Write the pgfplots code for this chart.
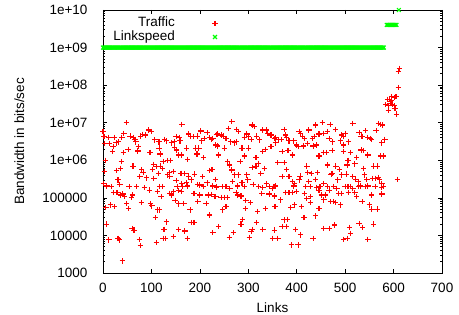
\documentclass[border=0pt]{standalone}
\usepackage{pgfplots}
\pgfplotsset{compat=1.18}
\usepackage{fontspec}
\setmainfont{Liberation Sans}
\definecolor{gpred}{RGB}{255,0,0}
\definecolor{gpgreen}{RGB}{0,255,0}
\pgfplotsset{marklegend/.style={legend image code/.code={\path (0cm,0cm) (2.76cm,0cm); \draw[##1] plot coordinates {(1.38cm,0cm)};}}}
\begin{document}
\begin{tikzpicture}[font=\fontsize{13.5bp}{16bp}\selectfont]
\begin{axis}[
  scale only axis, width=339bp, height=263bp,
  xmin=0, xmax=700, ymin=1000, ymax=1e10, ymode=log,
  xtick={0,100,200,300,400,500,600,700},
  ytick={1e3,1e4,1e5,1e6,1e7,1e8,1e9,1e10},
  yticklabels={1000,10000,100000,1e+06,1e+07,1e+08,1e+09,1e+10},
  minor ytick={2e3,3e3,4e3,5e3,6e3,7e3,8e3,9e3,2e4,3e4,4e4,5e4,6e4,7e4,8e4,9e4,2e5,3e5,4e5,5e5,6e5,7e5,8e5,9e5,2e6,3e6,4e6,5e6,6e6,7e6,8e6,9e6,2e7,3e7,4e7,5e7,6e7,7e7,8e7,9e7,2e8,3e8,4e8,5e8,6e8,7e8,8e8,9e8,2e9,3e9,4e9,5e9,6e9,7e9,8e9,9e9},
  /pgf/number format/assume math mode=true,
  tick align=inside, major tick length=4.5bp, minor tick length=2.5bp,
  every tick/.style={draw=black, line width=0.7bp},
  axis line style={draw=black, line width=0.9bp},
  xticklabel style={yshift=-7bp}, yticklabel style={xshift=-12bp},
  xlabel={Links}, ylabel={Bandwidth in bits/sec},
  xlabel style={at={(axis description cs:0.5,0)}, anchor=base, yshift=-40bp},
  ylabel style={at={(axis description cs:-0.222,0.5)}, anchor=south},
  clip=false,
  legend style={draw=none, fill=none, inner sep=0pt, at={(axis description cs:0.448,0.975)}, anchor=north east,
    row sep=0pt, nodes={inner sep=0.5bp, text height=9.7bp, text depth=2.8bp}},
  legend cell align=right, legend plot pos=right,
]
\coordinate (bl) at (rel axis cs:0,0);
\coordinate (tr) at (rel axis cs:1,1);
\addplot[only marks, mark=+, mark size=2.7bp, color=gpred, line width=1.1bp, mark options={solid}, marklegend]
table[row sep=\\] {
x y\\
48 1.0e7\\ 0 5.8e6\\ 43 5.2e6\\ 2 4.3e6\\ 11 4.1e6\\ 23 4.1e6\\ 27 2.9e6\\ 32 3.1e6\\ 39 4.1e6\\ 56 4.4e6\\
63 4.1e6\\ 66 3.6e6\\ 68 3.1e6\\ 78 4.4e6\\ 82 4.9e6\\ 87 4.7e6\\ 94 6.4e6\\ 100 5.8e6\\ 107 3.5e6\\ 114 3.1e6\\
4 2.8e6\\ 14 2.8e6\\ 21 2.3e6\\ 20 1.7e6\\ 42 1.6e6\\ 52 1.95e6\\ 73 2.3e6\\ 72 1.77e6\\ 97 1.6e6\\ 116 2.1e6\\
5 1.0e6\\ 38 9.2e5\\ 62 7.0e5\\ 80 5.7e5\\ 83 4.7e5\\ 104 7.8e5\\ 102 5.7e5\\ 111 6.8e5\\ 3 5.0e5\\ 28 5.3e5\\
36 6.1e5\\ 76 3.7e5\\ 90 3.4e5\\ 105 3.3e5\\ 115 4.5e5\\ 1 2.4e5\\ 8 2.07e5\\ 18 2.0e5\\ 31 3.0e5\\ 35 2.3e5\\
54 2.0e5\\ 69 2.0e5\\ 86 1.87e5\\ 96 1.6e5\\ 112 1.46e5\\ 22 1.37e5\\ 29 1.37e5\\ 37 1.19e5\\ 41 1.27e5\\ 45 1.07e5\\
59 1.03e5\\ 61 1.19e5\\ 15 6.5e4\\ 24 5.8e4\\ 6 5.6e4\\ 49 7.1e4\\ 53 5.3e4\\ 79 7.4e4\\ 98 6.9e4\\ 101 6.1e4\\
113 4.8e4\\ 108 3.0e4\\ 7 2.0e4\\ 60 1.54e4\\ 64 1.39e4\\ 31 8.4e3\\ 34 7.6e3\\ 12 7.6e3\\ 75 7.9e3\\ 77 5.3e3\\
110 6.5e3\\ 40 2.1e3\\
163 9.1e6\\ 117 3.1e6\\ 127 3.6e6\\ 131 3.3e6\\ 141 2.9e6\\ 147 3.1e6\\ 151 4.3e6\\ 158 4.1e6\\ 159 3.3e6\\ 177 5.0e6\\
181 4.4e6\\ 186 4.3e6\\ 195 4.4e6\\ 202 6.0e6\\ 204 3.3e6\\ 210 3.8e6\\ 215 5.4e6\\ 220 4.1e6\\ 224 3.6e6\\ 227 3.8e6\\
234 4.9e6\\ 237 2.4e6\\ 118 1.47e6\\ 148 2.17e6\\ 152 1.88e6\\ 156 1.38e6\\ 162 1.38e6\\ 172 2.1e6\\ 191 2.1e6\\ 198 2.1e6\\
194 1.47e6\\ 175 1.06e6\\ 208 1.17e6\\ 124 9.2e5\\ 134 9.8e5\\ 140 1.0e6\\ 119 7.0e5\\ 123 6.1e5\\ 133 4.1e5\\ 138 3.7e5\\
145 5.0e5\\ 137 4.7e5\\ 161 4.5e5\\ 169 4.5e5\\ 177 3.8e5\\ 189 4.3e5\\ 206 3.7e5\\ 220 5.3e5\\ 225 5.7e5\\ 238 1.38e6\\
232 3.1e5\\ 151 2.9e5\\ 172 2.5e5\\ 182 3.0e5\\ 195 2.3e5\\ 200 2.2e5\\ 207 2.0e5\\ 215 2.5e5\\ 227 2.07e5\\ 234 1.9e5\\
117 2.0e5\\ 122 2.0e5\\ 153 2.0e5\\ 163 2.4e5\\ 165 2.0e5\\ 174 2.07e5\\ 138 1.32e5\\ 141 1.19e5\\ 145 1.46e5\\ 156 1.55e5\\
162 1.46e5\\ 188 1.32e5\\ 200 1.19e5\\ 217 1.19e5\\ 224 1.24e5\\ 231 1.07e5\\ 120 1.07e5\\ 149 8.4e4\\ 156 6.9e4\\ 167 7.1e4\\
196 7.9e4\\ 213 7.1e4\\ 116 4.8e4\\ 180 4.8e4\\ 220 3.5e4\\ 131 2.3e4\\ 182 2.2e4\\ 188 2.2e4\\ 126 1.45e4\\ 156 1.45e4\\
169 1.31e4\\ 227 1.18e4\\ 124 8.4e3\\ 129 8.4e3\\ 145 9.3e3\\ 174 8.4e3\\
266 1.07e7\\ 259 7.1e6\\ 276 6.7e6\\ 280 5.8e6\\ 237 5.0e6\\ 244 4.7e6\\ 248 4.4e6\\ 254 3.8e6\\ 264 3.1e6\\ 271 2.9e6\\
275 3.1e6\\ 292 4.1e6\\ 297 5.0e6\\ 301 4.4e6\\ 306 3.6e6\\ 308 8.7e6\\ 312 7.9e6\\ 317 4.4e6\\ 323 3.5e6\\ 330 6.4e6\\
337 6.4e6\\ 340 5.2e6\\ 347 4.7e6\\ 354 3.8e6\\ 233 2.55e6\\ 251 2.1e6\\ 287 2.1e6\\ 300 2.1e6\\ 330 1.7e6\\ 336 1.95e6\\
347 2.3e6\\ 356 2.9e6\\ 292 1.3e6\\ 316 1.17e6\\ 257 9.2e5\\ 261 7.5e5\\ 266 5.5e5\\ 283 9.2e5\\ 308 6.5e5\\ 316 7.0e5\\
321 8.3e5\\ 326 4.5e5\\ 333 6.1e5\\ 271 4.1e5\\ 280 4.1e5\\ 297 4.1e5\\ 299 3.0e5\\ 268 2.7e5\\ 287 2.5e5\\ 310 2.3e5\\
321 2.0e5\\ 330 1.9e5\\ 337 2.4e5\\ 343 2.0e5\\ 350 1.79e5\\ 356 2.07e5\\ 235 2.0e5\\ 246 2.0e5\\ 254 2.0e5\\ 262 1.79e5\\
278 2.07e5\\ 292 2.0e5\\ 275 1.37e5\\ 285 1.12e5\\ 278 1.19e5\\ 328 1.32e5\\ 343 1.27e5\\ 354 1.12e5\\ 233 1.07e5\\ 244 1.03e5\\
251 1.03e5\\ 257 1.03e5\\ 295 8.4e4\\ 304 7.4e4\\ 254 5.8e4\\ 247 4.8e4\\ 294 5.3e4\\ 319 4.3e4\\ 335 5.3e4\\ 356 5.8e4\\
288 2.7e4\\ 285 2.0e4\\ 317 2.2e4\\ 239 1.71e4\\ 308 1.45e4\\ 306 1.26e4\\ 330 1.45e4\\ 354 1.39e4\\ 269 1.18e4\\ 261 8.9e3\\
302 8.9e3\\ 350 8.4e3\\
374 6.7e6\\ 405 5.8e6\\ 408 5.2e6\\ 425 6.4e6\\ 439 8.7e6\\ 453 1.0e7\\ 469 9.1e6\\ 456 5.2e6\\ 463 5.8e6\\ 446 5.0e6\\
436 4.3e6\\ 432 3.8e6\\ 357 4.1e6\\ 363 3.5e6\\ 368 3.6e6\\ 377 4.7e6\\ 379 4.1e6\\ 384 3.3e6\\ 394 3.3e6\\ 400 2.55e6\\
403 2.3e6\\ 412 4.3e6\\ 416 3.8e6\\ 414 2.4e6\\ 422 2.8e6\\ 434 2.4e6\\ 441 2.55e6\\ 467 3.8e6\\ 474 3.1e6\\ 370 1.7e6\\
382 1.8e6\\ 391 1.38e6\\ 446 1.3e6\\ 455 1.6e6\\ 462 1.6e6\\ 473 1.8e6\\ 361 8.6e5\\ 374 8.6e5\\ 379 5.7e5\\ 463 7.5e5\\
421 7.0e5\\ 430 4.5e5\\ 423 4.7e5\\ 443 4.7e5\\ 370 3.7e5\\ 384 3.7e5\\ 391 2.7e5\\ 396 2.4e5\\ 405 3.0e5\\ 407 3.8e5\\
394 2.07e5\\ 419 2.0e5\\ 425 2.7e5\\ 429 2.0e5\\ 439 3.1e5\\ 441 1.9e5\\ 448 2.0e5\\ 456 2.4e5\\ 463 2.0e5\\ 467 1.6e5\\
471 4.3e5\\ 476 2.0e5\\ 353 2.0e5\\ 377 1.37e5\\ 384 1.37e5\\ 391 1.37e5\\ 400 1.46e5\\ 416 1.32e5\\ 421 9.7e4\\ 429 1.07e5\\
446 1.6e5\\ 451 1.19e5\\ 460 1.19e5\\ 470 7.9e4\\ 476 7.9e4\\ 367 8.8e4\\ 355 5.8e4\\ 388 5.6e4\\ 396 6.5e4\\ 410 5.8e4\\
429 7.4e4\\ 456 8.8e4\\ 446 5.3e4\\ 374 2.6e4\\ 381 2.7e4\\ 415 3.0e4\\ 439 3.3e4\\ 370 1.71e4\\ 379 1.71e4\\ 398 1.45e4\\
408 1.03e4\\ 361 8.4e3\\ 456 1.54e4\\ 467 1.54e4\\ 389 5.6e3\\ 403 5.6e3\\ 434 8.4e3\\
516 9.6e6\\ 480 6.7e6\\ 500 5.2e6\\ 493 4.7e6\\ 497 4.3e6\\ 490 3.3e6\\ 507 3.1e6\\ 529 5.4e6\\ 533 4.4e6\\ 542 6.1e6\\
536 4.3e6\\ 547 4.1e6\\ 552 3.8e6\\ 555 3.6e6\\ 564 6.1e6\\ 569 9.6e6\\ 573 9.1e6\\ 577 8.7e6\\ 582 3.6e6\\ 576 2.9e6\\
497 2.55e6\\ 473 1.8e6\\ 497 1.7e6\\ 511 1.6e6\\ 533 1.88e6\\ 538 1.8e6\\ 547 1.38e6\\ 573 1.3e6\\ 579 1.3e6\\ 506 1.0e6\\
524 1.2e6\\ 481 7.0e5\\ 488 5.7e5\\ 504 7.5e5\\ 520 8.0e5\\ 538 6.1e5\\ 559 7.0e5\\ 566 7.0e5\\ 473 4.5e5\\ 493 4.1e5\\
502 4.3e5\\ 516 3.7e5\\ 521 3.1e5\\ 527 2.7e5\\ 540 4.1e5\\ 545 3.1e5\\ 557 3.3e5\\ 562 3.3e5\\ 568 3.5e5\\ 571 3.0e5\\
576 2.4e5\\ 579 2.0e5\\ 485 3.0e5\\ 476 2.0e5\\ 483 1.79e5\\ 500 2.0e5\\ 506 2.0e5\\ 511 2.0e5\\ 516 1.79e5\\ 527 2.0e5\\
531 2.07e5\\ 542 2.0e5\\ 547 2.07e5\\ 562 2.0e5\\ 575 1.9e5\\ 487 1.32e5\\ 493 1.32e5\\ 507 1.37e5\\ 520 1.37e5\\ 555 1.19e5\\
576 1.27e5\\ 524 1.07e5\\ 480 7.4e4\\ 490 6.5e4\\ 535 7.9e4\\ 550 6.5e4\\ 555 5.0e4\\ 566 5.0e4\\ 478 1.9e4\\ 509 1.64e4\\
511 1.13e4\\ 529 2.1e4\\ 536 1.64e4\\ 559 2.0e4\\ 547 7.9e3\\ 497 7.9e3\\ 504 8.4e3\\
612 2.8e8\\ 610 2.3e8\\ 610 8.6e7\\ 587 4.2e7\\ 591 4.2e7\\ 596 4.9e7\\ 601 4.7e7\\ 605 4.9e7\\ 594 3.6e7\\ 584 3.0e7\\
589 2.8e7\\ 598 3.1e7\\ 601 2.8e7\\ 603 2.4e7\\ 589 2.1e7\\ 606 1.7e7\\ 593 3.2e7\\ 596 4.0e7\\ 608 3.1e5\\
};
\addlegendentry{Traffic}
\addplot[only marks, mark=x, mark size=2.7bp, color=gpgreen, line width=1.1bp, mark options={solid}, marklegend]
table[row sep=\\] {
x y\\
0 1e9\\ 2 1e9\\ 4 1e9\\ 6 1e9\\ 8 1e9\\ 10 1e9\\ 12 1e9\\ 14 1e9\\ 16 1e9\\ 18 1e9\\
20 1e9\\ 22 1e9\\ 24 1e9\\ 26 1e9\\ 28 1e9\\ 30 1e9\\ 32 1e9\\ 34 1e9\\ 36 1e9\\ 38 1e9\\
40 1e9\\ 42 1e9\\ 44 1e9\\ 46 1e9\\ 48 1e9\\ 50 1e9\\ 52 1e9\\ 54 1e9\\ 56 1e9\\ 58 1e9\\
60 1e9\\ 62 1e9\\ 64 1e9\\ 66 1e9\\ 68 1e9\\ 70 1e9\\ 72 1e9\\ 74 1e9\\ 76 1e9\\ 78 1e9\\
80 1e9\\ 82 1e9\\ 84 1e9\\ 86 1e9\\ 88 1e9\\ 90 1e9\\ 92 1e9\\ 94 1e9\\ 96 1e9\\ 98 1e9\\
100 1e9\\ 102 1e9\\ 104 1e9\\ 106 1e9\\ 108 1e9\\ 110 1e9\\ 112 1e9\\ 114 1e9\\ 116 1e9\\ 118 1e9\\
120 1e9\\ 122 1e9\\ 124 1e9\\ 126 1e9\\ 128 1e9\\ 130 1e9\\ 132 1e9\\ 134 1e9\\ 136 1e9\\ 138 1e9\\
140 1e9\\ 142 1e9\\ 144 1e9\\ 146 1e9\\ 148 1e9\\ 150 1e9\\ 152 1e9\\ 154 1e9\\ 156 1e9\\ 158 1e9\\
160 1e9\\ 162 1e9\\ 164 1e9\\ 166 1e9\\ 168 1e9\\ 170 1e9\\ 172 1e9\\ 174 1e9\\ 176 1e9\\ 178 1e9\\
180 1e9\\ 182 1e9\\ 184 1e9\\ 186 1e9\\ 188 1e9\\ 190 1e9\\ 192 1e9\\ 194 1e9\\ 196 1e9\\ 198 1e9\\
200 1e9\\ 202 1e9\\ 204 1e9\\ 206 1e9\\ 208 1e9\\ 210 1e9\\ 212 1e9\\ 214 1e9\\ 216 1e9\\ 218 1e9\\
220 1e9\\ 222 1e9\\ 224 1e9\\ 226 1e9\\ 228 1e9\\ 230 1e9\\ 232 1e9\\ 234 1e9\\ 236 1e9\\ 238 1e9\\
240 1e9\\ 242 1e9\\ 244 1e9\\ 246 1e9\\ 248 1e9\\ 250 1e9\\ 252 1e9\\ 254 1e9\\ 256 1e9\\ 258 1e9\\
260 1e9\\ 262 1e9\\ 264 1e9\\ 266 1e9\\ 268 1e9\\ 270 1e9\\ 272 1e9\\ 274 1e9\\ 276 1e9\\ 278 1e9\\
280 1e9\\ 282 1e9\\ 284 1e9\\ 286 1e9\\ 288 1e9\\ 290 1e9\\ 292 1e9\\ 294 1e9\\ 296 1e9\\ 298 1e9\\
300 1e9\\ 302 1e9\\ 304 1e9\\ 306 1e9\\ 308 1e9\\ 310 1e9\\ 312 1e9\\ 314 1e9\\ 316 1e9\\ 318 1e9\\
320 1e9\\ 322 1e9\\ 324 1e9\\ 326 1e9\\ 328 1e9\\ 330 1e9\\ 332 1e9\\ 334 1e9\\ 336 1e9\\ 338 1e9\\
340 1e9\\ 342 1e9\\ 344 1e9\\ 346 1e9\\ 348 1e9\\ 350 1e9\\ 352 1e9\\ 354 1e9\\ 356 1e9\\ 358 1e9\\
360 1e9\\ 362 1e9\\ 364 1e9\\ 366 1e9\\ 368 1e9\\ 370 1e9\\ 372 1e9\\ 374 1e9\\ 376 1e9\\ 378 1e9\\
380 1e9\\ 382 1e9\\ 384 1e9\\ 386 1e9\\ 388 1e9\\ 390 1e9\\ 392 1e9\\ 394 1e9\\ 396 1e9\\ 398 1e9\\
400 1e9\\ 402 1e9\\ 404 1e9\\ 406 1e9\\ 408 1e9\\ 410 1e9\\ 412 1e9\\ 414 1e9\\ 416 1e9\\ 418 1e9\\
420 1e9\\ 422 1e9\\ 424 1e9\\ 426 1e9\\ 428 1e9\\ 430 1e9\\ 432 1e9\\ 434 1e9\\ 436 1e9\\ 438 1e9\\
440 1e9\\ 442 1e9\\ 444 1e9\\ 446 1e9\\ 448 1e9\\ 450 1e9\\ 452 1e9\\ 454 1e9\\ 456 1e9\\ 458 1e9\\
460 1e9\\ 462 1e9\\ 464 1e9\\ 466 1e9\\ 468 1e9\\ 470 1e9\\ 472 1e9\\ 474 1e9\\ 476 1e9\\ 478 1e9\\
480 1e9\\ 482 1e9\\ 484 1e9\\ 486 1e9\\ 488 1e9\\ 490 1e9\\ 492 1e9\\ 494 1e9\\ 496 1e9\\ 498 1e9\\
500 1e9\\ 502 1e9\\ 504 1e9\\ 506 1e9\\ 508 1e9\\ 510 1e9\\ 512 1e9\\ 514 1e9\\ 516 1e9\\ 518 1e9\\
520 1e9\\ 522 1e9\\ 524 1e9\\ 526 1e9\\ 528 1e9\\ 530 1e9\\ 532 1e9\\ 534 1e9\\ 536 1e9\\ 538 1e9\\
540 1e9\\ 542 1e9\\ 544 1e9\\ 546 1e9\\ 548 1e9\\ 550 1e9\\ 552 1e9\\ 554 1e9\\ 556 1e9\\ 558 1e9\\
560 1e9\\ 562 1e9\\ 564 1e9\\ 566 1e9\\ 568 1e9\\ 570 1e9\\ 572 1e9\\ 574 1e9\\ 576 1e9\\ 578 1e9\\
580 1e9\\
586 4e9\\ 588 4e9\\ 590 4e9\\ 592 4e9\\ 594 4e9\\ 596 4e9\\ 598 4e9\\ 600 4e9\\ 602 4e9\\ 604 4e9\\ 606 4e9\\
611 1e10\\
};
\addlegendentry{Linkspeed}
\end{axis}
\pgfresetboundingbox
\path ([shift={(-103bp,-42bp)}]bl) rectangle ([shift={(17bp,10bp)}]tr);
\end{tikzpicture}
\end{document}
